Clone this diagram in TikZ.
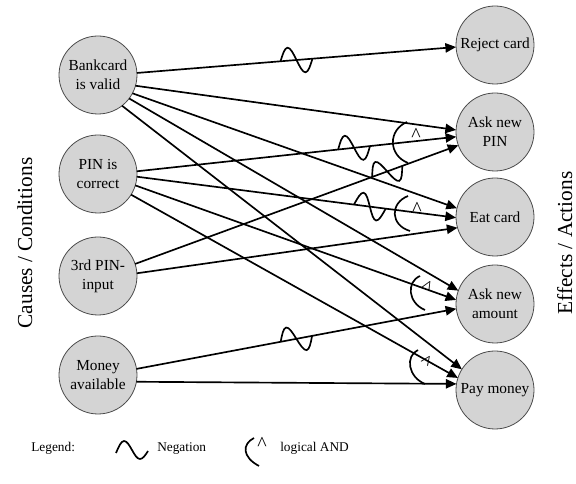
\documentclass[tikz,border=0pt]{standalone}
\usepackage{fontspec}
\setmainfont{Liberation Serif}
\usetikzlibrary{arrows.meta,decorations.markings}
\begin{document}
\begin{tikzpicture}[x=0.75pt,y=-0.75pt,
  state/.style={circle,draw=black!70,line width=0.6pt,fill=black!17,minimum size=58.5pt,inner sep=0pt,outer sep=0pt,align=center,font=\fontsize{11.5}{14.5}\selectfont},
  conn/.style={line width=1.25pt,-{Triangle[length=8pt,width=7pt]}},
  neg/.style={postaction={decorate},decoration={markings,mark=at position #1 with {\draw[line width=1.25pt,-] (-16,0) sin (-8,-13) cos (0,0) sin (8,13) cos (16,0);}}},
  andarc/.style={line width=1.25pt},
  andsym/.style={font=\fontsize{15}{15}\selectfont,inner sep=0pt,anchor=north},
  legend/.style={font=\fontsize{10}{12}\selectfont,inner sep=0pt,anchor=base west},
  side/.style={rotate=90,inner sep=0pt,anchor=base}
]
\useasboundingbox (0,0) rectangle (576,484);

% causes
\node[state] (bank)  at (98,75)  {Bankcard\\is valid};
\node[state] (pin)   at (98,174) {PIN is\\correct};
\node[state] (third) at (98,276) {3rd PIN-\\input};
\node[state] (money) at (98,375) {Money\\available};
% effects
\node[state] (rej) at (495,45)  {Reject card};
\node[state] (ask) at (495,132) {Ask new\\PIN};
\node[state] (eat) at (495,217) {Eat card};
\node[state] (amt) at (495,304) {Ask new\\amount};
\node[state] (pay) at (495,390) {Pay money};

% connectors
\draw[conn,neg=0.5]  (bank.3)   -- (rej.183);
\draw[conn]          (bank.-16) -- (ask.177);
\draw[conn]          (bank.-28) -- (eat.167);
\draw[conn]          (bank.-37) -- (amt.160);
\draw[conn]          (bank.-52) -- (pay.148);
\draw[conn,neg=0.68] (pin.4)    -- (ask.187);
\draw[conn,neg=0.73] (pin.-4)   -- (eat.181);
\draw[conn]          (pin.-17)  -- (amt.174);
\draw[conn]          (pin.-32)  -- (pay.162);
\draw[conn,neg=0.78] (third.18) -- (ask.200);
\draw[conn]          (third.4)  -- (eat.196);
\draw[conn,neg=0.5]  (money.9)  -- (amt.187);
\draw[conn]          (money.-10) -- (pay.171);

% logical AND marks
\draw[andarc] (407,122) .. controls (388,130) and (388,155) .. (408,163);
\node[andsym] at (416,128) {\textasciicircum};
\draw[andarc] (408,196) .. controls (390,203) and (390,225) .. (410,231);
\node[andsym] at (417,202) {\textasciicircum};
\draw[andarc] (420,276) .. controls (406,282) and (408,303) .. (425,310);
\node[andsym,anchor=center,rotate=-30] at (427,287) {\textasciicircum};
\draw[andarc] (418,350) .. controls (405,356) and (408,377) .. (425,384);
\node[andsym,anchor=center,rotate=-35] at (426,362) {\textasciicircum};

% side labels
\node[side,font=\fontsize{16}{18}\selectfont] (causes) at (32,243) {Causes / Conditions};
\node[side,font=\fontsize{16}{18}\selectfont] (effects) at (572,243) {Effects / Actions};

% legend
\node[legend] (lg) at (31,452) {Legend:};
\draw[line width=1.25pt] (116,453) sin (124,441) cos (132,450) sin (140,459) cos (148,451);
\node[legend] (lgneg) at (157,452) {Negation};
\draw[andarc] (254,438) .. controls (242,444) and (242,457) .. (259,466);
\node[andsym] at (262,437) {\textasciicircum};
\node[legend] (lgand) at (280,452) {logical AND};
\end{tikzpicture}
\end{document}
